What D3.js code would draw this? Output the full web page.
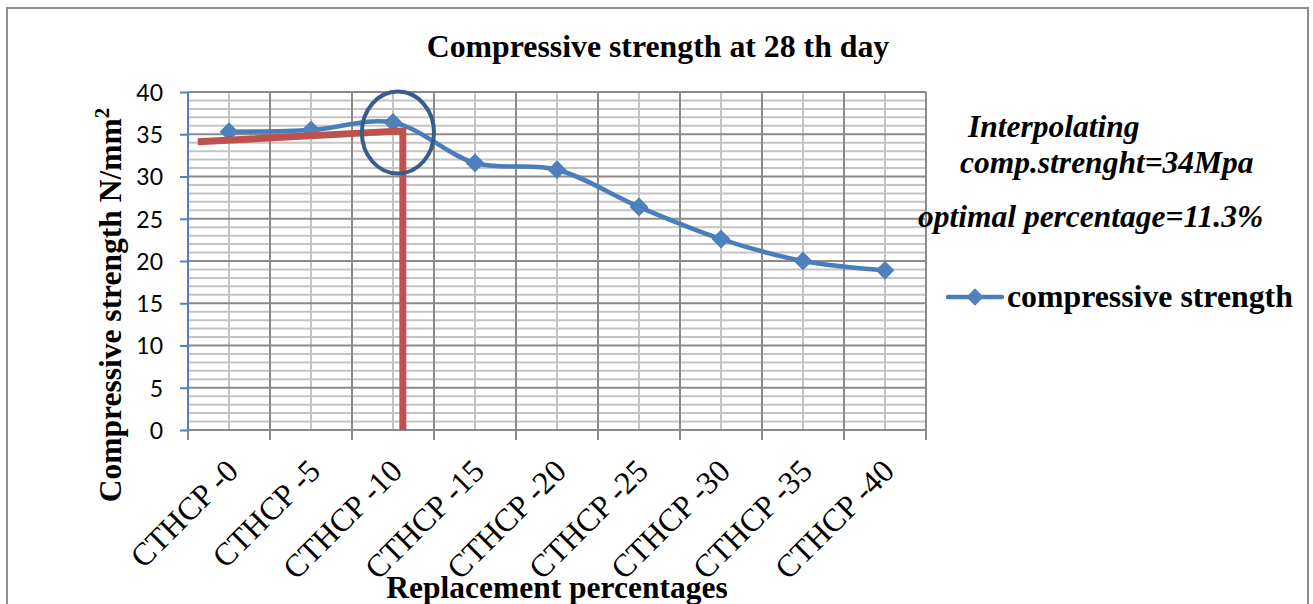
<!DOCTYPE html>
<html>
<head>
<meta charset="utf-8">
<script src="https://cdn.jsdelivr.net/npm/d3@7/dist/d3.min.js"></script>
<style>
  html, body { margin: 0; padding: 0; background: #fff; }
  svg { display: block; }
</style>
</head>
<body>
<svg id="chart" width="1313" height="604"></svg>
<script>
// data
const categories = ['CTHCP -0', 'CTHCP -5', 'CTHCP -10', 'CTHCP -15', 'CTHCP -20',
  'CTHCP -25', 'CTHCP -30', 'CTHCP -35', 'CTHCP -40'];
const percentages = [0, 5, 10, 15, 20, 25, 30, 35, 40];
const strength = [35.3, 35.5, 36.4, 31.6, 30.8, 26.4, 22.6, 20.0, 18.9];
const yTicks = [0, 5, 10, 15, 20, 25, 30, 35, 40];

// hand drawn interpolation marks (percentage, strength)
const interpPct = [-1.9, 10.6, 10.6];
const interpStrength = [34.1, 35.4, 0];
const circlePct = [10.3];
const circleStrength = [35.2];

const notes = ['Interpolating', 'comp.strenght=34Mpa', 'optimal percentage=11.3%'];
const seriesName = 'compressive strength';

const MARGINS = { top: 92, left: 188, right: 387, bottom: 174 };
const WIDTH = 1313;
const HEIGHT = 604;

const SERIF = '"Liberation Serif", "Times New Roman", serif';
const BLUE = '#4A7EBB';
const RED = '#C0504D';

const svg = d3.select('#chart');

// outer chart border
svg.append('rect')
  .attr('x', 7).attr('y', 8)
  .attr('width', 1301).attr('height', 640)
  .attr('fill', 'none')
  .attr('stroke', '#8E8E8E')
  .attr('stroke-width', 2);

const x0 = MARGINS.left;
const x1 = WIDTH - MARGINS.right;
const y0 = HEIGHT - MARGINS.bottom;
const y1 = MARGINS.top;

const scaleX = d3.scaleBand()
  .domain(categories)
  .range([x0, x1]);

// percentage -> pixel, lined up with the category centres
const scalePct = d3.scaleLinear()
  .domain([0, 40])
  .range([scaleX(categories[0]) + scaleX.bandwidth() / 2,
          scaleX(categories[8]) + scaleX.bandwidth() / 2]);

const scaleY = d3.scaleLinear()
  .domain([0, 40])
  .range([y0, y1]);

// grid lines
const grid = svg.append('g').attr('class', 'grid');
const minorY = d3.range(0, 41).filter(v => v % 5 !== 0);

grid.selectAll('line.minor-h')
  .data(minorY)
  .join('line')
  .attr('class', 'minor-h')
  .attr('x1', x0).attr('x2', x1)
  .attr('y1', d => scaleY(d)).attr('y2', d => scaleY(d))
  .attr('stroke', '#C4C4C4')
  .attr('stroke-width', 2);

grid.selectAll('line.minor-v')
  .data(categories)
  .join('line')
  .attr('class', 'minor-v')
  .attr('x1', d => scaleX(d) + scaleX.bandwidth() / 2)
  .attr('x2', d => scaleX(d) + scaleX.bandwidth() / 2)
  .attr('y1', y0).attr('y2', y1)
  .attr('stroke', '#C4C4C4')
  .attr('stroke-width', 2);

grid.selectAll('line.major-h')
  .data(yTicks.filter(v => v > 0))
  .join('line')
  .attr('class', 'major-h')
  .attr('x1', x0).attr('x2', x1)
  .attr('y1', d => scaleY(d)).attr('y2', d => scaleY(d))
  .attr('stroke', '#8A8A8A')
  .attr('stroke-width', 2);

const boundaries = categories.map(d => scaleX(d)).concat([x1]);
grid.selectAll('line.major-v')
  .data(boundaries.slice(1))
  .join('line')
  .attr('class', 'major-v')
  .attr('x1', d => d).attr('x2', d => d)
  .attr('y1', y0).attr('y2', y1)
  .attr('stroke', '#8A8A8A')
  .attr('stroke-width', 2);

// x axis with ticks on the category boundaries
const xAxis = svg.append('g').attr('class', 'x-axis');
xAxis.append('line')
  .attr('x1', x0).attr('x2', x1)
  .attr('y1', y0).attr('y2', y0)
  .attr('stroke', '#8A8A8A')
  .attr('stroke-width', 2);
xAxis.selectAll('line.tick')
  .data(boundaries)
  .join('line')
  .attr('class', 'tick')
  .attr('x1', d => d).attr('x2', d => d)
  .attr('y1', y0).attr('y2', y0 + 10)
  .attr('stroke', '#8A8A8A')
  .attr('stroke-width', 2);
xAxis.selectAll('text')
  .data(categories)
  .join('text')
  .attr('transform', d => {
    const cx = scaleX(d) + scaleX.bandwidth() / 2 + 11;
    return `translate(${cx},${y0 + 43}) rotate(-45)`;
  })
  .attr('text-anchor', 'end')
  .attr('font-family', SERIF)
  .attr('font-size', 32)
  .attr('fill', '#000')
  .text(d => d);

// y axis
const yAxis = svg.append('g')
  .attr('class', 'y-axis')
  .attr('transform', `translate(${x0},0)`)
  .call(d3.axisLeft(scaleY).tickValues(yTicks).tickSize(8).tickPadding(17));
yAxis.select('.domain')
  .attr('d', `M0,${y0}V${y1}`)
  .attr('stroke', '#4F81BD')
  .attr('stroke-width', 2);
yAxis.selectAll('.tick line')
  .attr('stroke', '#4F81BD')
  .attr('stroke-width', 2);
yAxis.selectAll('.tick text')
  .attr('font-family', 'Lato, "Open Sans", sans-serif')
  .attr('font-size', 23)
  .attr('dy', '0.36em')
  .attr('fill', '#000');

// series line
const points = percentages.map((p, i) => [scalePct(p), scaleY(strength[i])]);
svg.append('path')
  .attr('d', d3.line().curve(d3.curveCatmullRom.alpha(0.5))(points))
  .attr('fill', 'none')
  .attr('stroke', BLUE)
  .attr('stroke-width', 4.5)
  .attr('stroke-linecap', 'round');

const diamond = d3.symbol(d3.symbolSquare).size(150);
svg.selectAll('path.marker')
  .data(points)
  .join('path')
  .attr('class', 'marker')
  .attr('transform', d => `translate(${d[0]},${d[1]}) rotate(45)`)
  .attr('d', diamond)
  .attr('fill', '#4F81BD')
  .attr('stroke', BLUE)
  .attr('stroke-width', 1);

// interpolation marks
const interpPoints = interpPct.map((p, i) => [scalePct(p), scaleY(interpStrength[i])]);
svg.append('path')
  .attr('d', d3.line()(interpPoints))
  .attr('fill', 'none')
  .attr('stroke', RED)
  .attr('stroke-width', 7)
  .attr('stroke-linejoin', 'miter');

svg.append('ellipse')
  .attr('cx', scalePct(circlePct[0]))
  .attr('cy', scaleY(circleStrength[0]))
  .attr('rx', scalePct(circlePct[0] + 2.2) - scalePct(circlePct[0]))
  .attr('ry', scaleY(circleStrength[0]) - scaleY(circleStrength[0] + 4.85))
  .attr('fill', 'none')
  .attr('stroke', '#385D8A')
  .attr('stroke-width', 4);

// titles
svg.append('text')
  .attr('x', 658).attr('y', 57)
  .attr('text-anchor', 'middle')
  .attr('font-family', SERIF)
  .attr('font-weight', 'bold')
  .attr('font-size', 31.8)
  .text('Compressive strength at 28 th day');

svg.append('text')
  .attr('x', (x0 + x1) / 2).attr('y', 598)
  .attr('text-anchor', 'middle')
  .attr('font-family', SERIF)
  .attr('font-weight', 'bold')
  .attr('font-size', 31.5)
  .text('Replacement percentages');

const yTitle = svg.append('text')
  .attr('transform', 'translate(121,305) rotate(-90)')
  .attr('text-anchor', 'middle')
  .attr('font-family', SERIF)
  .attr('font-weight', 'bold')
  .attr('font-size', 31.5);
yTitle.append('tspan').text('Compressive strength N/mm');
yTitle.append('tspan')
  .attr('font-size', 21)
  .attr('dy', -12)
  .text('2');

// notes at the right
const noteX = [968, 960, 918];
const noteY = [137, 173, 227];
svg.selectAll('text.note')
  .data(notes)
  .join('text')
  .attr('class', 'note')
  .attr('x', (d, i) => noteX[i])
  .attr('y', (d, i) => noteY[i])
  .attr('font-family', SERIF)
  .attr('font-weight', 'bold')
  .attr('font-style', 'italic')
  .attr('font-size', 31.5)
  .text(d => d);

// legend
const legend = svg.append('g').attr('transform', 'translate(948,297)');
legend.append('line')
  .attr('x1', 0).attr('x2', 54)
  .attr('stroke', BLUE)
  .attr('stroke-width', 4.5)
  .attr('stroke-linecap', 'round');
legend.append('path')
  .attr('transform', 'translate(27,0) rotate(45)')
  .attr('d', diamond)
  .attr('fill', '#4F81BD');
legend.append('text')
  .attr('x', 59).attr('y', 10)
  .attr('font-family', SERIF)
  .attr('font-weight', 'bold')
  .attr('font-size', 31.8)
  .text(seriesName);
</script>
</body>
</html>
